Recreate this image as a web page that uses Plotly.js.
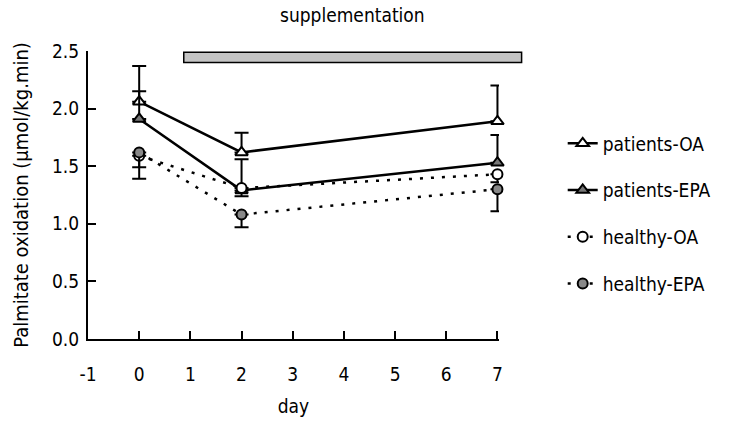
<!DOCTYPE html>
<html>
<head>
<meta charset="utf-8">
<script src="https://cdn.plot.ly/plotly-3.0.1.min.js"></script>
<style>html,body{margin:0;padding:0;background:#fff;}#chart{width:756px;height:423px;}</style>
</head>
<body>
<div id="chart"></div>
<script>
// ---- data ----
const days = [0, 2, 7];
const seriesNames = ["patients-OA", "patients-EPA", "healthy-OA", "healthy-EPA"];
const patientsOA = [2.06, 1.62, 1.89];
const patientsOAErrUp = [0.31, 0.17, 0.31];
const patientsEPA = [1.91, 1.29, 1.53];
const patientsEPAErrUp = [0.24, 0.27, 0.24];
const healthyOA = [1.59, 1.31, 1.43];
const healthyOAErrDown = [0.10, 0.07, 0.07];
const healthyEPA = [1.62, 1.08, 1.30];
const healthyEPAErrDown = [0.23, 0.11, 0.19];
const xTicks = [-1, 0, 1, 2, 3, 4, 5, 6, 7];
const yTicks = [0, 0.5, 1.0, 1.5, 2.0, 2.5];
const supplementationLabel = "supplementation";
const supplementationBand = [2.40, 2.49];

const FONT = "'DejaVu Sans Condensed', 'Liberation Sans Narrow', 'Liberation Sans', Arial, sans-serif";
const zeros = [0, 0, 0];

function errUp(arr) {
  return {type: "data", symmetric: false, array: arr, arrayminus: zeros, color: "#000", thickness: 2, width: 7};
}
function errDown(arr) {
  return {type: "data", symmetric: false, array: zeros, arrayminus: arr, color: "#000", thickness: 2, width: 7};
}

const traces = [
  {
    x: days, y: patientsOA, name: seriesNames[0], legendgroup: "a", legendrank: 1,
    mode: "lines+markers", type: "scatter", cliponaxis: false,
    line: {color: "#000", width: 2.5},
    marker: {symbol: "triangle-up", size: 11, color: "#fff", line: {color: "#000", width: 2}},
    error_y: errUp(patientsOAErrUp)
  },
  {
    x: days, y: patientsEPA, name: seriesNames[1], legendgroup: "b", legendrank: 2,
    mode: "lines+markers", type: "scatter", cliponaxis: false,
    line: {color: "#000", width: 2.5},
    marker: {symbol: "triangle-up", size: 11, color: "#777", line: {color: "#000", width: 2}},
    error_y: errUp(patientsEPAErrUp)
  },
  {
    x: days, y: healthyOA, name: seriesNames[2], legendgroup: "c", legendrank: 3,
    mode: "lines+markers", type: "scatter", cliponaxis: false,
    line: {color: "#000", width: 2.5, dash: "3px,8px"},
    marker: {symbol: "circle", size: 10, color: "#fff", line: {color: "#000", width: 2}},
    error_y: errDown(healthyOAErrDown)
  },
  {
    x: days, y: healthyEPA, name: seriesNames[3], legendgroup: "d", legendrank: 4,
    mode: "lines+markers", type: "scatter", cliponaxis: false,
    line: {color: "#000", width: 2.5, dash: "3px,8px"},
    marker: {symbol: "circle", size: 10, color: "#888", line: {color: "#000", width: 2}},
    error_y: errDown(healthyEPAErrDown)
  }
];

const layout = {
  width: 756, height: 423,
  paper_bgcolor: "#fff", plot_bgcolor: "#fff",
  margin: {l: 88, r: 257, t: 51, b: 84},
  font: {family: FONT, size: 19, color: "#000"},
  showlegend: true,
  legend: {
    x: 1.155, y: 0.745, xanchor: "left", yanchor: "top",
    font: {family: FONT, size: 19, color: "#000"},
    tracegroupgap: 19, bgcolor: "rgba(0,0,0,0)"
  },
  xaxis: {
    range: [-1, 7.03], tickvals: xTicks, ticktext: xTicks.map(String),
    showgrid: false, zeroline: false, showline: true, linecolor: "#000", linewidth: 2,
    ticks: "inside", ticklen: 8, tickwidth: 2, tickcolor: "#000",
    tickfont: {family: FONT, size: 19}, ticklabelstandoff: 17,
    title: {text: "day", font: {family: FONT, size: 19}, standoff: 16}
  },
  yaxis: {
    range: [0, 2.5], tickvals: yTicks, ticktext: yTicks.map(v => v.toFixed(1)),
    showgrid: false, zeroline: false, showline: true, linecolor: "#000", linewidth: 2,
    ticks: "inside", ticklen: 8, tickwidth: 2, tickcolor: "#000",
    tickfont: {family: FONT, size: 19}, ticklabelstandoff: 3,
    title: {text: "Palmitate oxidation (µmol/kg.min)", font: {family: FONT, size: 20}, standoff: 18}
  },
  shapes: [
    {
      type: "rect", xref: "paper", yref: "y",
      x0: 0.233, x1: 1.055,
      y0: supplementationBand[0], y1: supplementationBand[1],
      fillcolor: "#c4c4c4", line: {color: "#000", width: 1.5}, layer: "above"
    }
  ],
  annotations: [
    {
      text: supplementationLabel, xref: "paper", yref: "paper",
      x: 0.644, y: 1.125,
      xanchor: "center", yanchor: "middle", showarrow: false,
      font: {family: FONT, size: 19, color: "#000"}
    }
  ]
};

Plotly.newPlot("chart", traces, layout, {displayModeBar: false, staticPlot: true});
</script>
</body>
</html>
